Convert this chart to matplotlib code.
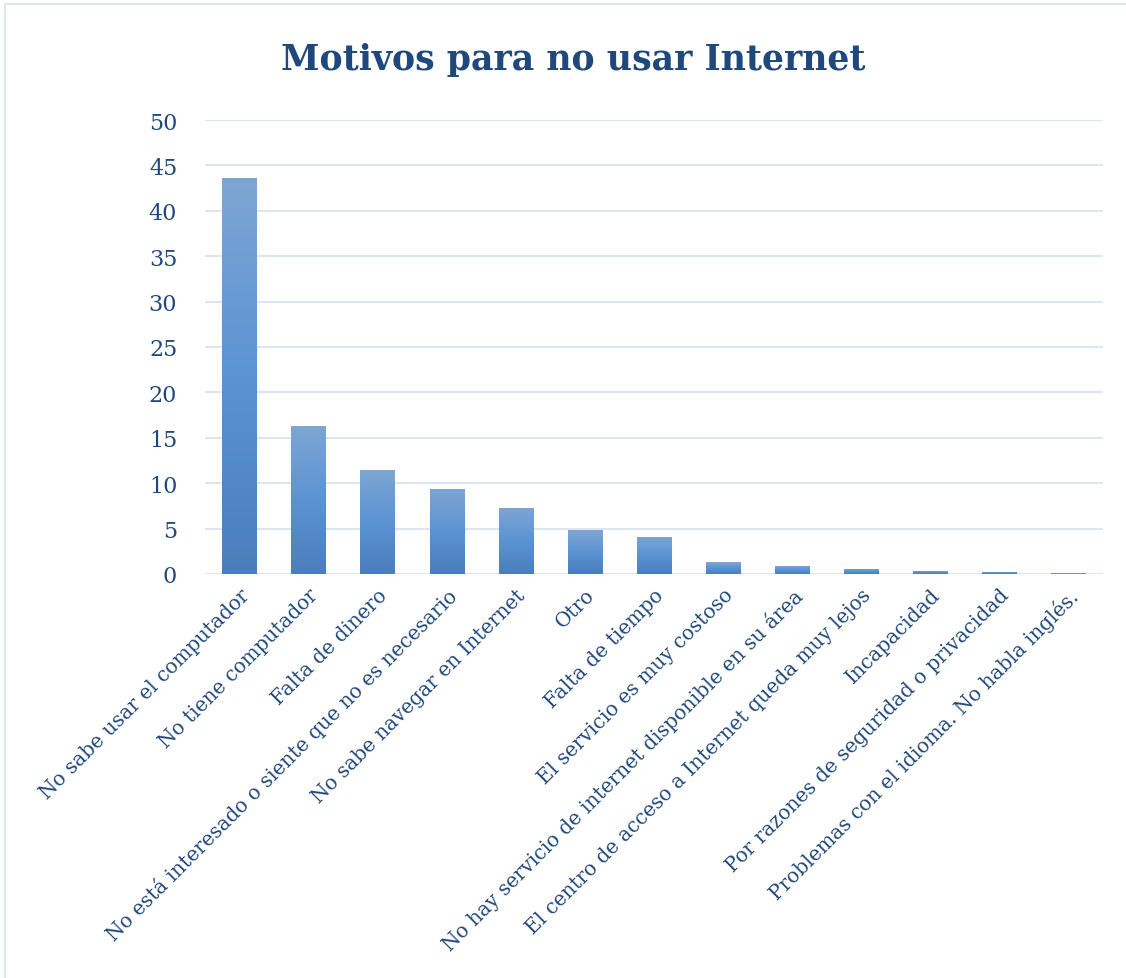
import matplotlib.pyplot as plt
import numpy as np
from matplotlib.patches import Rectangle
from matplotlib.colors import LinearSegmentedColormap

categories = [
    'No sabe usar el computador',
    'No tiene computador',
    'Falta de dinero',
    'No está interesado o siente que no es necesario',
    'No sabe navegar en Internet',
    'Otro',
    'Falta de tiempo',
    'El servicio es muy costoso',
    'No hay servicio de internet disponible en su área',
    'El centro de acceso a Internet queda muy lejos',
    'Incapacidad',
    'Por razones de seguridad o privacidad',
    'Problemas con el idioma. No habla inglés.',
]
values = [43.6, 16.3, 11.5, 9.4, 7.3, 4.8, 4.1, 1.3, 0.9, 0.6, 0.35, 0.25, 0.1]
yticks = [0, 5, 10, 15, 20, 25, 30, 35, 40, 45, 50]

text_color = '#1F497D'
plt.rcParams['font.family'] = ['DejaVu Serif']

fig = plt.figure(figsize=(11.26, 9.79), dpi=100)
ax = fig.add_axes([205 / 1126, 1 - 575 / 979, (1103 - 205) / 1126, (575 - 121) / 979])

# chart frame
fig.patches.append(Rectangle((5 / 1126, -0.01), 1.2, 1 - 5 / 979 + 0.01,
                             transform=fig.transFigure, fill=False,
                             edgecolor='#DCE6F2', linewidth=1.5))

x = np.arange(len(categories))
bars = ax.bar(x, values, width=0.5, color='#5B8FCB', zorder=2)

# vertical gradient inside each bar
cmap = LinearSegmentedColormap.from_list('g', ['#4A7EBB', '#5B93D3', '#7EA6D3'])
grad = np.linspace(0, 1, 256).reshape(-1, 1)
for b in bars:
    x0, w, h = b.get_x(), b.get_width(), b.get_height()
    im = ax.imshow(grad, extent=[x0, x0 + w, 0, h], origin='lower', cmap=cmap,
                   aspect='auto', zorder=3)
    im.set_clip_path(b)

ax.set_xlim(-0.5, len(categories) - 0.5)
ax.set_ylim(0, 50)
ax.set_yticks(yticks)
ax.set_xticks(x)
ax.set_xticklabels(categories, rotation=45, ha='right', rotation_mode='anchor')
ax.tick_params(axis='both', length=0, colors=text_color)
ax.tick_params(axis='y', pad=20, labelsize=16)
ax.tick_params(axis='x', pad=8, labelsize=14.4)
ax.grid(axis='y', color='#DCE6F2', linewidth=1.5, zorder=0)
ax.set_axisbelow(True)
for s in ax.spines.values():
    s.set_visible(False)

fig.text(573 / 1126, 1 - 60 / 979, 'Motivos para no usar Internet', ha='center', va='center',
         fontsize=25, fontweight='bold', color=text_color)

fig.savefig('out.png', dpi=100)
